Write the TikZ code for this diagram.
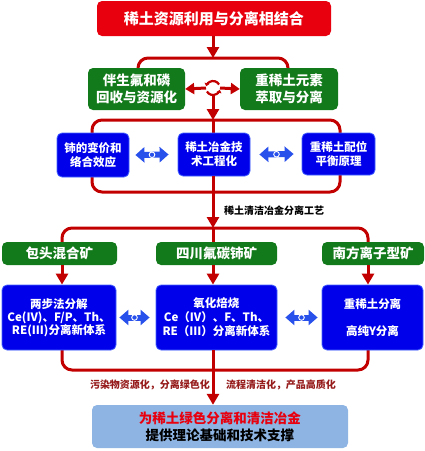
\documentclass[tikz,border=0pt]{standalone}
\usepackage{fontspec}
\setmainfont{Noto Sans CJK SC}
\usetikzlibrary{arrows.meta,calc}
\definecolor{tred}{RGB}{232,0,14}
\definecolor{fred}{RGB}{195,0,0}
\definecolor{tgreen}{RGB}{18,122,26}
\definecolor{tblue}{RGB}{0,0,235}
\definecolor{bborder}{RGB}{70,100,255}
\definecolor{lblue}{RGB}{141,180,226}
\definecolor{lbred}{RGB}{150,28,28}
\definecolor{arrblue}{RGB}{40,80,235}
\tikzset{
  box/.style={rounded corners=5pt, align=center, inner sep=0pt, text=white, font=\bfseries},
  redbox/.style={box, fill=tred},
  greenbox/.style={box, fill=tgreen, font=\bfseries\fontsize{13.5}{17}\selectfont},
  bluebox/.style={box, fill=tblue, draw=bborder, line width=0.8pt},
  frame/.style={draw=fred, line width=3pt, rounded corners=10pt},
  spine/.style={draw=fred, line width=3pt},
  redarrow/.style={draw=fred, line width=3pt, -{Triangle[length=11pt,width=12pt]}},
  dblblue/.style={draw=arrblue, line width=6pt, {Triangle[length=9pt,width=15pt]}-{Triangle[length=9pt,width=15pt]}},
  lab/.style={font=\bfseries\fontsize{10}{12}\selectfont, inner sep=0pt},
}
\begin{document}
\begin{tikzpicture}[x=1pt,y=-1pt]
\useasboundingbox (0,0) rectangle (425,451);
% ---- frames (behind) ----
\coordinate (c1l) at (138,58);
\coordinate (c1r) at (288,58);
\draw[frame] (138,70) |- (c1r) -- (288,70);
\draw[frame] (92,120) rectangle (340,192);
\draw[frame] (62,244) |- (368,228) -- (368,244);
\draw[frame] (62,348) |- (368,370) -- (368,348);
% ---- nodes ----
\node[redbox, minimum width=234pt, minimum height=35pt, font=\bfseries\fontsize{15}{18}\selectfont] (title) at (214,18.5) {稀土资源利用与分离相结合};
\node[greenbox, minimum width=97pt, minimum height=42pt] (g1) at (136.5,89) {伴生氟和磷\\回收与资源化};
\node[greenbox, minimum width=98pt, minimum height=42pt] (g2) at (289,89) {重稀土元素\\萃取与分离};

\coordinate (ico) at (213,88);
% spine from icon to level-2 frame and down
\draw[redarrow] (213,96) -- (213,120);
\draw[spine] (213,120) -- (213,150);
\node[bluebox, minimum width=72pt, minimum height=44pt, font=\bfseries\fontsize{11.5}{14}\selectfont] (b1) at (93,155) {铈的变价和\\络合效应};
\node[bluebox, minimum width=72pt, minimum height=43pt, font=\bfseries\fontsize{11.5}{14}\selectfont] (b2) at (214,154.5) {稀土冶金技\\术工程化};
\node[bluebox, minimum width=73pt, minimum height=42pt, font=\bfseries\fontsize{11.5}{14}\selectfont] (b3) at (338.5,154) {重稀土配位\\平衡原理};

% level 1 connectors
\draw[redarrow, -{Triangle[length=9pt,width=11pt]}] (ico) ++(-7,0) -- (g1.east);
\draw[redarrow, -{Triangle[length=9pt,width=11pt]}] (ico) ++(7,0) -- (g2.west);
\draw[fred, line width=2.2pt, -{Triangle[length=3pt,width=5pt]}] (ico) ++(150:7) arc (150:15:7);
\draw[fred, line width=2.2pt, -{Triangle[length=3pt,width=5pt]}] (ico) ++(330:7) arc (330:195:7);
\draw[redarrow] (title.south -| ico) -- (c1l -| ico);

% level 2 double arrows
\draw[dblblue] ($(b1.east)+(6,0)$) -- ($(b2.west)+(-9,0)$) coordinate[pos=0.5] (m1);
\draw[dblblue] ($(b2.east)+(9,0)$) -- ($(b3.west)+(-8,0)$) coordinate[pos=0.5] (m2);
\draw[white, line width=0.9pt] (m1) circle (2.8pt) (m2) circle (2.8pt);

% spine down to level 3
\draw[redarrow] (b2.south -| ico) -- (213,228);
\node[lab, anchor=west] (lbl) at (224,211) {稀土清洁冶金分离工艺};

% level 3
\node[greenbox, minimum width=115pt, minimum height=23pt] (k1) at (59.5,253.5) {包头混合矿};
\node[greenbox, minimum width=121pt, minimum height=23pt] (k2) at (216.5,253.5) {四川氟碳铈矿};
\node[greenbox, minimum width=102pt, minimum height=23pt] (k3) at (373,253.5) {南方离子型矿};
\draw[spine] (213,228) -- (k2.north -| ico);

\node[bluebox, minimum width=114pt, minimum height=65pt, font=\bfseries\fontsize{11.5}{12.8}\selectfont] (p1) at (59,317.5) {两步法分解\\Ce(IV)、F/P、Th、\\RE(III)分离新体系};
\node[bluebox, minimum width=121pt, minimum height=65pt, font=\bfseries\fontsize{11.5}{14}\selectfont] (p2) at (216.5,317.5) {氧化焙烧\\Ce（IV）、F、Th、\\RE（III）分离新体系};
\node[bluebox, minimum width=101pt, minimum height=65pt, font=\bfseries\fontsize{11.5}{14}\selectfont] (p3) at (372.5,317.5) {重稀土分离\\[13pt]高纯Y分离};

\coordinate (xl) at (62,0);
\coordinate (xr) at (368,0);
\draw[redarrow] (k1.south -| xl) -- (p1.north -| xl);
\draw[redarrow] (k2.south -| ico) -- (p2.north -| ico);
\draw[redarrow] (k3.south -| xr) -- (p3.north -| xr);

\draw[dblblue] ($(p1.east)+(3,0)$) -- ($(p2.west)+(-6,0)$) coordinate[pos=0.5] (m3);
\draw[dblblue] ($(p2.east)+(8,0)$) -- ($(p3.west)+(-4,0)$) coordinate[pos=0.5] (m4);
\draw[white, line width=0.9pt] (m3) circle (2.8pt) (m4) circle (2.8pt);

% bottom
\node[box, fill=lblue, minimum width=256pt, minimum height=43pt, font=\bfseries\fontsize{13.5}{17}\selectfont, text=black] (fin) at (220,426.5) {\textcolor{tred}{为稀土绿色分离和清洁冶金}\\提供理论基础和技术支撑};
\draw[redarrow] (p2.south -| ico) -- (fin.north -| ico);
\node[lab, text=lbred] (q1) at (150,385) {污染物资源化，分离绿色化};
\node[lab, text=lbred] (q2) at (281,385) {流程清洁化，产品高质化};
\end{tikzpicture}
\end{document}
